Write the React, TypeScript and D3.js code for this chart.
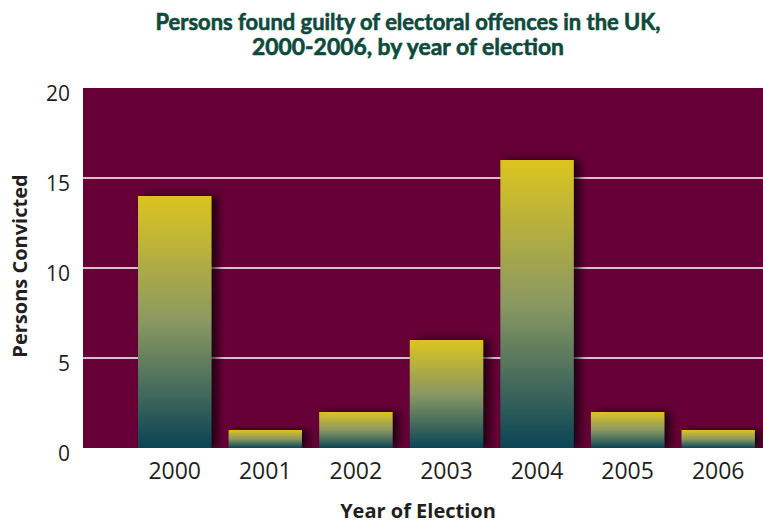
import React from "react";
import * as d3 from "d3";

const years = ["2000", "2001", "2002", "2003", "2004", "2005", "2006"];
const convicted = [14, 1, 2, 6, 16, 2, 1];
const yTicks = [0, 5, 10, 15, 20];
const gridValues = [5, 10, 15];
const titleLines = [
  "Persons found guilty of electoral offences in the UK,",
  "2000-2006, by year of election",
];

const W = 763;
const H = 524;
const plotLeft = 83;
const plotRight = 763;
const plotTop = 88;
const plotBottom = 448;

export default function App() {
  const x = d3
    .scaleBand<string>()
    .domain(years)
    .range([129.4, 763.5])
    .paddingInner(0.19)
    .paddingOuter(0.095);
  const y = d3.scaleLinear().domain([0, 20]).range([plotBottom, plotTop]);

  return (
    <svg
      width={W}
      height={H}
      style={{ position: "absolute", left: 0, top: 0 }}
      viewBox={`0 0 ${W} ${H}`}
    >
      <defs>
        <linearGradient id="barGrad" x1="0" y1="0" x2="0" y2="1">
          <stop offset="0%" stopColor="#dcc41f" />
          <stop offset="50%" stopColor="#8a9862" />
          <stop offset="100%" stopColor="#0a4456" />
        </linearGradient>
        <filter id="shadow" x="-20%" y="-20%" width="150%" height="140%">
          <feDropShadow dx="6" dy="0" stdDeviation="4" floodColor="#000" floodOpacity="0.7" />
        </filter>
        <clipPath id="plotClip">
          <rect x={plotLeft} y={plotTop} width={plotRight - plotLeft} height={plotBottom - plotTop} />
        </clipPath>
      </defs>
      <rect x={0} y={0} width={W} height={H} fill="#ffffff" />
      {titleLines.map((t, i) => (
        <text
          key={i}
          x={408}
          y={30 + i * 25}
          textAnchor="middle"
          fontFamily="Lato, 'Open Sans', sans-serif"
          fontWeight={700}
          fontSize={22.5}
          fill="#0d4a3c"
          stroke="#0d4a3c"
          strokeWidth={0.6}
          textLength={i === 0 ? 505 : 312}
          lengthAdjust="spacingAndGlyphs"
        >
          {t}
        </text>
      ))}
      <rect
        x={plotLeft}
        y={plotTop}
        width={plotRight - plotLeft}
        height={plotBottom - plotTop}
        fill="#660036"
      />
      <g clipPath="url(#plotClip)">
        {gridValues.map((v) => (
          <line
            key={v}
            x1={plotLeft}
            x2={plotRight}
            y1={y(v)}
            y2={y(v)}
            stroke="#ffffff"
            strokeWidth={1.5}
          />
        ))}
        {years.map((yr, i) => (
          <rect
            key={yr}
            x={x(yr)}
            y={y(convicted[i])}
            width={x.bandwidth()}
            height={y(0) - y(convicted[i])}
            fill="url(#barGrad)"
            filter="url(#shadow)"
          />
        ))}
      </g>
      {yTicks.map((v) => (
        <text
          key={v}
          x={70}
          y={y(v) + 13}
          textAnchor="end"
          fontFamily="'Open Sans', sans-serif"
          fontSize={21}
          fill="#231f20"
        >
          {v}
        </text>
      ))}
      {years.map((yr) => (
        <text
          key={yr}
          x={(x(yr) as number) + x.bandwidth() / 2}
          y={479}
          textAnchor="middle"
          fontFamily="'Open Sans', sans-serif"
          fontSize={23}
          fill="#231f20"
        >
          {yr}
        </text>
      ))}
      <text
        x={418}
        y={518}
        textAnchor="middle"
        fontFamily="'Open Sans', sans-serif"
        fontWeight={700}
        fontSize={20}
        fill="#231f20"
      >
        Year of Election
      </text>
      <text
        transform={`translate(27, 266) rotate(-90)`}
        textAnchor="middle"
        fontFamily="'Open Sans', sans-serif"
        fontWeight={700}
        fontSize={20}
        fill="#231f20"
      >
        Persons Convicted
      </text>
    </svg>
  );
}
